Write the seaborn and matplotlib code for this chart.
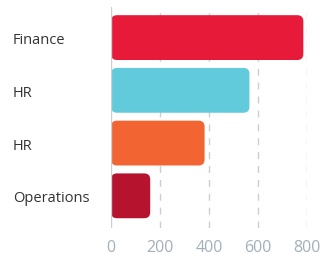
"""Horizontal bar chart with rounded bars, department values."""
import matplotlib
matplotlib.use("Agg")
import matplotlib.pyplot as plt
import pandas as pd
import seaborn as sns
from matplotlib.patches import FancyBboxPatch

# Data
categories = ["Finance", "HR", "HR", "Operations"]
values = [785, 565, 382, 160]
colors = ["#e71a39", "#62cbdb", "#f26532", "#b5132e"]

sns.set_style("white")
plt.rcParams["font.family"] = ["Open Sans", "DejaVu Sans"]

df = pd.DataFrame({
    "slot": [f"s{i}" for i in range(len(categories))],
    "value": values,
})

fig = plt.figure(figsize=(3.2, 2.55), dpi=100)
ax = fig.add_axes([111 / 320, 1 - 229 / 255, (307 - 111) / 320, (229 - 8) / 255])

sns.barplot(data=df, x="value", y="slot", hue="slot", palette=colors,
            orient="h", width=0.85, legend=False, ax=ax, saturation=1)

ax.set_xlim(0, 800)
ax.set_ylim(3.61, -0.58)

# swap plain rectangles for rounded ones
x_per_px = 800 / (307 - 111)
y_per_px = (3.61 + 0.58) / (229 - 8)
for p in list(ax.patches):
    x0, y0 = p.get_x(), p.get_y()
    w, h = p.get_width(), p.get_height()
    fc = p.get_facecolor()
    p.remove()
    ax.add_patch(FancyBboxPatch(
        (x0, y0), w, h,
        boxstyle=f"round,pad=0,rounding_size={6 * x_per_px}",
        mutation_aspect=y_per_px / x_per_px,
        facecolor=fc, edgecolor="none", zorder=2))

# grid and axis line
for v in [200, 400, 600, 800]:
    ax.axvline(v, color="#c8cfd6", lw=1, ls=(0, (5, 5)), zorder=0)
ax.axvline(0, color="#c8cfd6", lw=1, zorder=3)

for s in ax.spines.values():
    s.set_visible(False)

ax.set_xticks([0, 200, 400, 600, 800])
ax.set_yticks(range(len(categories)))
ax.set_yticklabels(categories)
ax.set_xlabel("")
ax.set_ylabel("")
ax.tick_params(axis="y", length=0, pad=(111 - 13) * 0.72, labelsize=10.5,
               labelcolor="#333333")
ax.tick_params(axis="x", length=0, pad=8, labelsize=11.5, labelcolor="#a3afba")
for lbl in ax.get_yticklabels():
    lbl.set_horizontalalignment("left")

fig.savefig("out.png", dpi=100)
